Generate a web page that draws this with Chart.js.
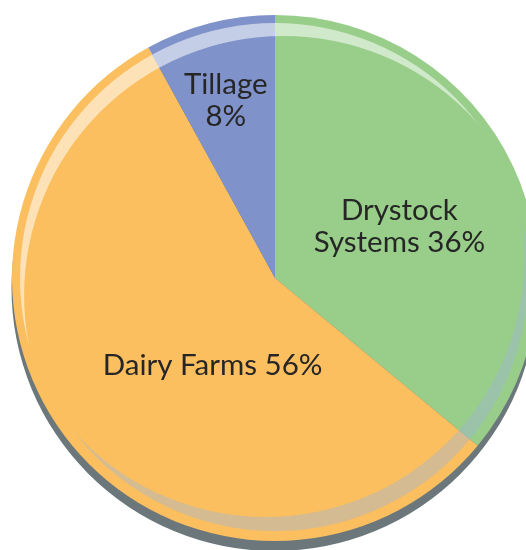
<!DOCTYPE html>
<html lang="en">
<head>
  <meta charset="UTF-8" />
  <title>Farm types</title>
  <script src="https://cdn.jsdelivr.net/npm/chart.js"></script>
  <style>
    html, body { margin: 0; padding: 0; overflow: hidden; background: #fff; }
    #wrap { position: absolute; left: 0; top: 0; }
  </style>
</head>
<body>
  <div id="wrap"><canvas id="pie" width="550" height="556"></canvas></div>
  <script>
    // data
    const categories = ["Drystock Systems", "Dairy Farms", "Tillage"];
    const shares = [36, 56, 8];
    const labelLines = [["Drystock", "Systems 36%"], ["Dairy Farms 56%"], ["Tillage", "8%"]];
    const colours = ["#98ce8a", "#fbbf5f", "#7f92c9"];

    // where each label sits: fraction of radius, degrees away from slice middle
    const labelPlace = [[0.512, 2.7], [0.409, -14.9], [0.70, -1.1]];

    // drop shadow + glossy rings around the pie
    const gloss = {
      id: "gloss",
      beforeDatasetsDraw(chart) {
        const arc = chart.getDatasetMeta(0).data[0];
        const ctx = chart.ctx;
        ctx.save();
        ctx.fillStyle = "#6c777b";
        ctx.beginPath();
        ctx.arc(arc.x - 0.5, arc.y + 10, arc.outerRadius, 0, Math.PI * 2);
        ctx.fill();
        ctx.restore();
      },
      afterDatasetsDraw(chart) {
        const arc = chart.getDatasetMeta(0).data[0];
        const ctx = chart.ctx;
        const R = arc.outerRadius;
        const crescent = (rOut, dx, dy, rIn, fill) => {
          ctx.save();
          ctx.beginPath();
          ctx.arc(arc.x, arc.y, rOut, 0, Math.PI * 2);
          ctx.clip();
          ctx.beginPath();
          ctx.rect(0, 0, chart.width, chart.height);
          ctx.arc(arc.x + dx, arc.y + dy, rIn, 0, Math.PI * 2);
          ctx.fillStyle = fill;
          ctx.fill("evenodd");
          ctx.restore();
        };
        crescent(R - 8, 8.6, 17.5, R - 3.5, "rgba(255,255,255,0.55)");
        crescent(R - 10, -9.3, -19.4, R - 4.6, "rgba(160,180,215,0.42)");

        // labels
        ctx.save();
        ctx.fillStyle = "#262626";
        ctx.font = "29.5px Lato";
        ctx.textAlign = "center";
        ctx.textBaseline = "middle";
        chart.getDatasetMeta(0).data.forEach((el, i) => {
          const mid = (el.startAngle + el.endAngle) / 2 + labelPlace[i][1] * Math.PI / 180;
          const r = R * labelPlace[i][0];
          const cx = el.x + Math.cos(mid) * r;
          const cy = el.y + Math.sin(mid) * r;
          const lines = labelLines[i];
          const lh = 32;
          lines.forEach((t, j) => {
            ctx.fillText(t, cx, cy + (j - (lines.length - 1) / 2) * lh);
          });
        });
        ctx.restore();
      }
    };

    new Chart(document.getElementById("pie"), {
      type: "pie",
      data: {
        labels: categories,
        datasets: [{
          data: shares,
          backgroundColor: colours,
          borderWidth: 0
        }]
      },
      options: {
        responsive: false,
        animation: false,
        layout: { padding: { left: 12, right: 12, top: 15, bottom: 15 } },
        plugins: {
          legend: { display: false },
          tooltip: { enabled: false }
        }
      },
      plugins: [gloss]
    });
  </script>
</body>
</html>
